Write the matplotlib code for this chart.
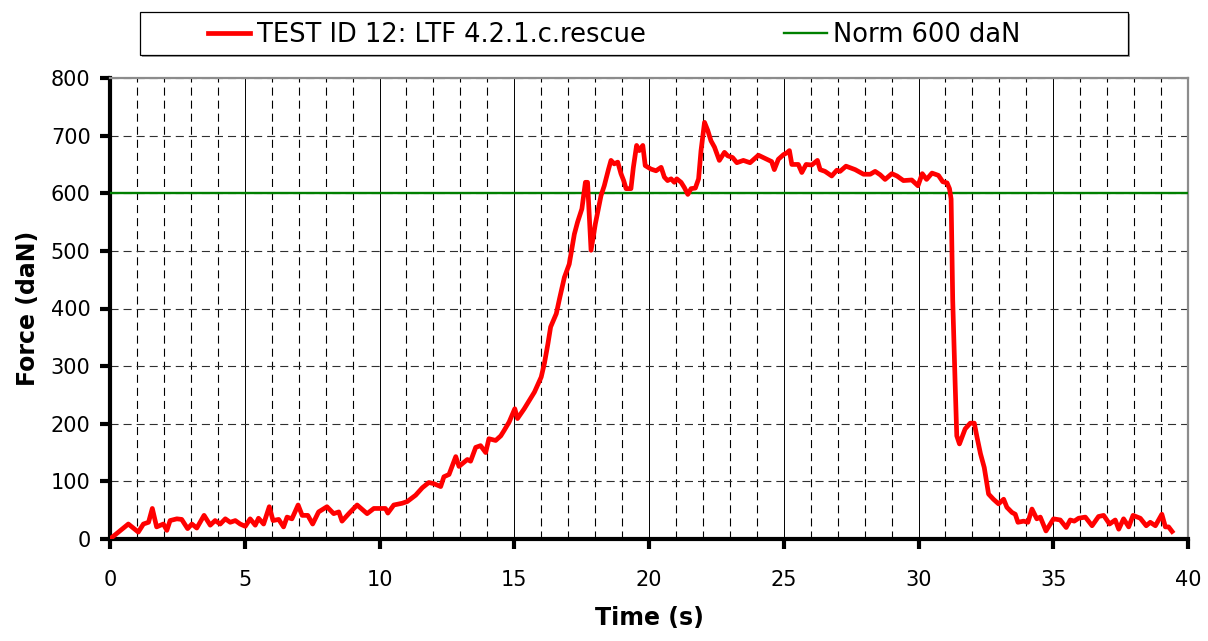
import matplotlib
matplotlib.use("Agg")
import matplotlib.pyplot as plt
from matplotlib.ticker import MultipleLocator
from matplotlib.patches import Rectangle

# force curve (time s, force daN)
tid = [0, 0.68, 1.05, 1.24, 1.43, 1.57, 1.73, 1.98, 2.11, 2.23, 2.48, 2.66, 2.88, 3.04,
       3.22, 3.49, 3.72, 3.9, 4.09, 4.28, 4.46, 4.65, 4.83, 5.02, 5.2, 5.39, 5.51, 5.7,
       5.91, 6.05, 6.26, 6.44, 6.57, 6.75, 6.98, 7.13, 7.34, 7.52, 7.74, 8.05, 8.3, 8.49,
       8.61, 8.86, 9.17, 9.54, 9.79, 10.22, 10.31, 10.53, 10.84, 11.03, 11.34, 11.59,
       11.83, 12.02, 12.27, 12.39, 12.58, 12.83, 12.95, 13.26, 13.38, 13.57, 13.75, 13.94,
       14.06, 14.31, 14.5, 14.62, 14.81, 15.02, 15.12, 15.37, 15.75, 16.0, 16.12, 16.25,
       16.35, 16.56, 16.68, 16.86, 17.04, 17.23, 17.35, 17.51, 17.64, 17.72, 17.85, 18.01,
       18.22, 18.34, 18.5, 18.59, 18.71, 18.84, 18.96, 19.06, 19.15, 19.33, 19.42, 19.54,
       19.64, 19.77, 19.86, 20.07, 20.26, 20.45, 20.57, 20.69, 20.82, 20.94, 21.03, 21.19,
       21.31, 21.44, 21.56, 21.72, 21.84, 21.93, 22.06, 22.18, 22.3, 22.43, 22.61, 22.8,
       22.92, 23.1, 23.26, 23.5, 23.75, 24.06, 24.37, 24.55, 24.65, 24.8, 24.99, 25.11,
       25.21, 25.3, 25.54, 25.67, 25.83, 26.04, 26.25, 26.35, 26.53, 26.78, 26.97, 27.09,
       27.31, 27.65, 27.96, 28.21, 28.39, 28.58, 28.76, 29.01, 29.2, 29.44, 29.75, 29.98,
       30.14, 30.3, 30.5, 30.74, 30.9, 31.06, 31.15, 31.21, 31.27, 31.36, 31.42, 31.52,
       31.73, 31.92, 32.07, 32.17, 32.3, 32.44, 32.6, 32.78, 32.97, 33.16, 33.28, 33.47,
       33.59, 33.69, 33.9, 34.06, 34.21, 34.39, 34.52, 34.73, 35.01, 35.26, 35.48, 35.63,
       35.78, 35.94, 36.19, 36.44, 36.68, 36.87, 37.09, 37.3, 37.43, 37.61, 37.8, 37.96,
       38.23, 38.45, 38.6, 38.79, 39.03, 39.16, 39.28, 39.41]
kraft = [0, 26, 12, 26, 29, 53, 21, 26, 15, 32, 35, 34, 18, 26,
         19, 41, 24, 32, 26, 35, 29, 32, 26, 22, 35, 24, 36, 26,
         56, 32, 34, 21, 38, 35, 59, 41, 41, 26, 47, 56, 44, 47,
         31, 44, 59, 44, 53, 53, 45, 59, 62, 65, 76, 89,
         98, 96, 91, 108, 112, 143, 126, 138, 135, 159, 162, 150,
         174, 171, 179, 188, 203, 226, 209, 226, 255, 281, 305, 339,
         368, 391, 417, 454, 477, 529, 550, 573, 619, 619, 501, 547,
         596, 613, 642, 657, 651, 654, 634, 622, 608, 608, 645, 683,
         674, 683, 648, 642, 639, 645, 628, 622, 625, 619, 625, 619,
         610, 598, 608, 609, 625, 674, 723, 709, 691, 680, 657, 671,
         665, 662, 653, 657, 653, 666, 659, 655, 641, 659, 667, 670,
         674, 650, 650, 636, 650, 649, 657, 641, 638, 630, 640, 638,
         647, 641, 633, 633, 638, 632, 624, 634, 630, 622, 623, 613,
         634, 624, 635, 631, 620, 618, 608, 590, 414, 269, 179, 165,
         191, 201, 201, 177, 148, 124, 78, 69, 61, 69, 55, 46,
         43, 29, 31, 29, 52, 35, 38, 14, 35, 33, 20, 33,
         31, 36, 38, 23, 39, 41, 26, 33, 17, 35, 21, 41,
         36, 23, 29, 23, 43, 21, 21, 13]
norm = 600

plt.rcParams['font.family'] = ['DejaVu Sans']
plt.rcParams['lines.scale_dashes'] = False

fig = plt.figure(figsize=(12.08, 6.41), dpi=100)
ax = fig.add_axes([110/1208, 1-539/641, 1078/1208, 461/641])

ax.plot(tid, kraft, color="#ff0000", lw=3.4, zorder=4, solid_joinstyle="round",
        label="TEST ID 12: LTF 4.2.1.c.rescue")
ax.axhline(y=norm, color="#008000", lw=1.7, zorder=3, label="Norm 600 daN")

ax.set_xlim(0, 40)
ax.set_ylim(0, 800)
ax.xaxis.set_major_locator(MultipleLocator(5))
ax.xaxis.set_minor_locator(MultipleLocator(1))
ax.yaxis.set_major_locator(MultipleLocator(100))

ax.grid(which="minor", axis="x", color="black", lw=0.8, ls=(0, (5.8, 3.6)))
ax.grid(which="major", axis="x", color="black", lw=0.7, ls="-")
ax.grid(which="major", axis="y", color="#303030", lw=0.8, ls=(0, (5.8, 3.6)))
ax.set_axisbelow(True)

for s in ["top", "right"]:
    ax.spines[s].set_color("#8c8c8c")
    ax.spines[s].set_linewidth(1.6)
for s in ["left", "bottom"]:
    ax.spines[s].set_color("black")
    ax.spines[s].set_linewidth(3)

ax.tick_params(axis="y", which="major", direction="out", length=7, width=3, pad=7, labelsize=15)
ax.tick_params(axis="x", which="major", direction="out", length=7, width=3, pad=15, labelsize=15)
ax.tick_params(which="minor", length=0)

ax.set_xlabel("Time (s)", fontsize=17, fontweight="bold", labelpad=12)
ax.set_ylabel("Force (daN)", fontsize=17, fontweight="bold", labelpad=8)

# legend box at the top
fig.patches.append(Rectangle((142/1208, 1-57/641), 988/1208, 43/641, transform=fig.transFigure,
                             facecolor="#a0a0a0", edgecolor="none", zorder=0))
fig.patches.append(Rectangle((140/1208, 1-55/641), 988/1208, 43/641, transform=fig.transFigure,
                             facecolor="white", edgecolor="black", lw=0.9, zorder=1))
fig.legend(loc="center left", bbox_to_anchor=(195/1208, 1-35/641), ncol=2, frameon=False,
           borderpad=0, fontsize=18.5, handlelength=1.65, handletextpad=0.25, columnspacing=5.4)

fig.savefig("out.png", dpi=100)
